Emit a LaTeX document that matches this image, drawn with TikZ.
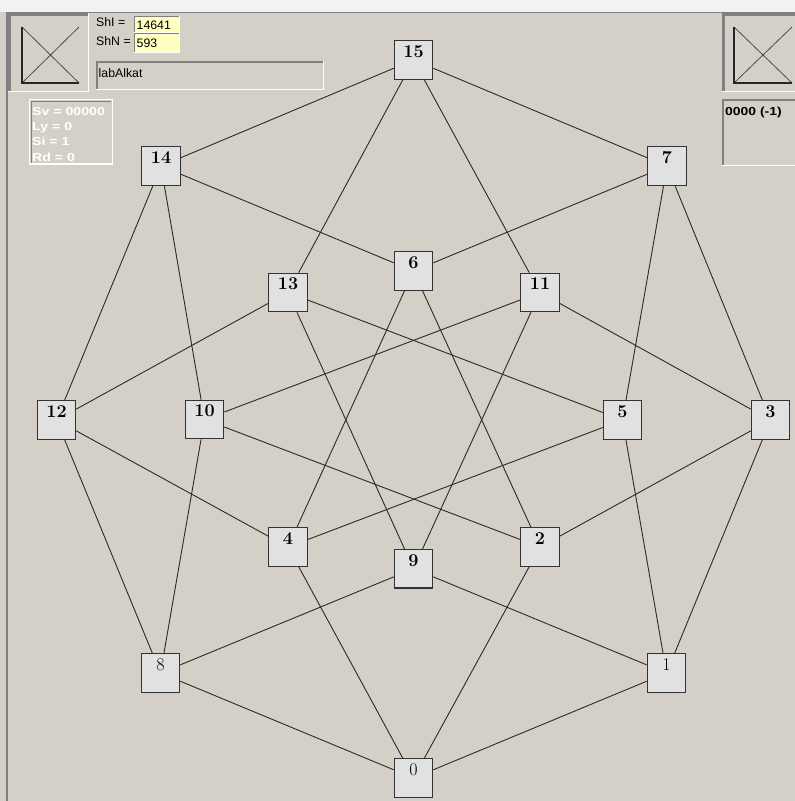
\documentclass[tikz,border=0pt]{standalone}
\usepackage{fontspec}
\usepackage{graphicx}
\newfontfamily\uifont{Liberation Sans}
\definecolor{bg}{HTML}{D4D0C8}
\definecolor{topstrip}{HTML}{F2F2F2}
\definecolor{boxfill}{HTML}{E1E1E1}
\definecolor{edgecol}{HTML}{2A2A2A}
\definecolor{framegray}{HTML}{808080}
\definecolor{fieldyellow}{HTML}{FFFFC0}
\tikzset{
  vbox/.style={draw=black!80, line width=1.1pt, fill=boxfill, minimum width=38.5pt,
    inner xsep=0pt, inner ysep=5pt, text height=11.6pt, text depth=16.9pt,
    font=\fontsize{18}{18}\selectfont\bfseries},
  vboxr/.style={vbox, font=\fontsize{18}{18}\selectfont},
  link/.style={draw=edgecol, line width=0.9pt},
  uitext/.style={inner sep=0pt, anchor=base west, font=\uifont\fontsize{12.3}{12.3}\selectfont, text=black},
  uibold/.style={inner sep=0pt, anchor=base west, font=\uifont\fontsize{11.6}{11.6}\selectfont\bfseries, text=white},
  uiboldblack/.style={uibold, text=black},
  xpic/.style={draw=black!70, line width=0.8pt},
  xpicside/.style={draw=black!85, line width=1.3pt},
}
\begin{document}
\begin{tikzpicture}[x=1pt,y=-1pt]
\useasboundingbox (0,0) rectangle (795,801);
% window background
\fill[bg] (0,0) rectangle (795,801);
\fill[topstrip] (0,0) rectangle (795,11.5);
\draw[framegray, line width=1.5pt] (7,801) -- (7,12.5) -- (795,12.5);

% top-left picture frame
\draw[white, line width=1pt] (8,91.5) -- (88.5,91.5) -- (88.5,13);
\draw[framegray, line width=3pt] (9.5,91) -- (9.5,14.5) -- (88,14.5);
\draw[xpic] (22,27) -- (79,83) (79,27) -- (22,83);
\draw[xpicside] (22,27) -- (22,83) -- (79,83);

% ShI / ShN fields
\fill[fieldyellow] (134,16) rectangle (179,32);
\fill[fieldyellow] (134,33) rectangle (179,52);
\draw[framegray, line width=1pt] (134.5,32) -- (134.5,16.5) -- (179,16.5);
\draw[framegray, line width=1pt] (134.5,52) -- (134.5,33.5) -- (179,33.5);
\draw[white, line width=0.8pt] (134,32.2) -- (179.4,32.2) -- (179.4,16);
\draw[white, line width=0.8pt] (134,52.2) -- (179.4,52.2) -- (179.4,33);
\node[uitext] (shi) at (96,26.7) {ShI =};
\node[uitext] (shn) at (96,45) {ShN =};
\node[uitext] (shiv) at (136.5,29.5) {14641};
\node[uitext] (shnv) at (136.5,47) {593};

% labAlkat box
\draw[white, line width=1pt] (96,89.5) -- (323.5,89.5) -- (323.5,61);
\draw[framegray, line width=1.5pt] (96.75,89) -- (96.75,61.75) -- (323,61.75);
\node[uitext] (lab) at (98.5,77) {labAlkat};

% Sv box
\draw[white, line width=1.2pt] (29.5,99.5) rectangle (112.5,164);
\draw[framegray, line width=1pt] (31.2,162.5) -- (31.2,101.2) -- (111,101.2);
\node[uibold] (sv) at (32,115) {\scalebox{1.22}[1]{Sv = 00000}};
\node[uibold] (ly) at (32,130) {\scalebox{1.22}[1]{Ly = 0}};
\node[uibold] (si) at (32,145.5) {\scalebox{1.22}[1]{Si = 1}};
\node[uibold] (rd) at (32,161) {\scalebox{1.22}[1]{Rd = 0}};

% top-right picture frame
\draw[white, line width=1pt] (722,91.5) -- (795,91.5);
\draw[framegray, line width=3pt] (723.5,91) -- (723.5,14.5) -- (795,14.5);
\draw[xpic] (734,27) -- (792,83) (792,27) -- (734,83);
\draw[xpicside] (734,27) -- (734,83) -- (792,83);

% result box
\draw[white, line width=1pt] (722,165.5) -- (795,165.5);
\draw[framegray, line width=2pt] (723,165) -- (723,100) -- (795,100);
\node[uiboldblack] (res) at (725,115) {\scalebox{1.2}[1]{0000 (-1)}};

% lattice nodes
\node[vbox]  (n15) at (413.5,60) {15};
\node[vbox]  (n14) at (161,166) {14};
\node[vbox]  (n7)  at (667,166) {7};
\node[vbox]  (n13) at (288,292.5) {13};
\node[vbox]  (n6)  at (413.5,271) {6};
\node[vbox]  (n11) at (540,292.5) {11};
\node[vbox]  (n12) at (56.5,420) {12};
\node[vbox]  (n10) at (204.5,419.5) {10};
\node[vbox]  (n5)  at (622.5,420) {5};
\node[vbox]  (n3)  at (770.5,420) {3};
\node[vbox]  (n4)  at (288,547) {4};
\node[vbox]  (n2)  at (540,547) {2};
\node[vbox]  (n9)  at (413.5,568.7) {9};
\node[vboxr] (n8)  at (160.5,673) {8};
\node[vboxr] (n1)  at (666.5,673) {1};
\node[vboxr] (n0)  at (413.5,778) {0};

% edges (hypercube Hasse diagram)
\foreach \a/\b in {15/14,15/13,15/11,15/7,
  14/12,14/10,14/6, 13/12,13/9,13/5, 11/10,11/9,11/3, 7/6,7/5,7/3,
  12/8,12/4, 10/8,10/2, 6/4,6/2, 9/8,9/1, 5/4,5/1, 3/2,3/1,
  8/0,4/0,2/0,1/0}
  \draw[link] (n\a) -- (n\b);
\end{tikzpicture}
\end{document}
